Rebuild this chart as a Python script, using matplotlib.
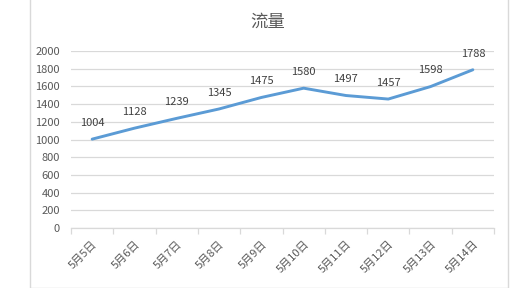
import matplotlib.pyplot as plt
from matplotlib.patches import Rectangle

plt.rcParams['font.family'] = ['Noto Sans CJK SC', 'DejaVu Sans']

dates = ["5月5日", "5月6日", "5月7日", "5月8日", "5月9日",
         "5月10日", "5月11日", "5月12日", "5月13日", "5月14日"]
flow = [1004, 1128, 1239, 1345, 1475, 1580, 1497, 1457, 1598, 1788]
yticks = [0, 200, 400, 600, 800, 1000, 1200, 1400, 1600, 1800, 2000]

text_color = "#595959"
grid_color = "#D9D9D9"

fig = plt.figure(figsize=(5.14, 2.88), dpi=100)
# chart frame
fig.patches.append(Rectangle((29.5 / 514, 0.5 / 288), 478.5 / 514, 1.2,
                             transform=fig.transFigure, fill=False,
                             edgecolor=grid_color, linewidth=1))

ax = fig.add_axes([71 / 514, 60 / 288, 423 / 514, 177 / 288])
x = list(range(len(dates)))
ax.plot(x, flow, color="#5B9BD5", linewidth=2.1, solid_capstyle="round")
for xi, v in zip(x, flow):
    ax.annotate(str(v), (xi, v), xytext=(0, 8), textcoords="offset points",
                ha="center", va="bottom", fontsize=8, color="#404040")

ax.set_xlim(-0.5, len(dates) - 0.5)
ax.set_ylim(0, 2000)
ax.set_yticks(yticks)
ax.set_yticklabels([str(t) for t in yticks], fontsize=8, color=text_color)
ax.yaxis.grid(True, color=grid_color, linewidth=0.9)
ax.set_axisbelow(True)
ax.tick_params(axis="y", length=0, pad=8)

ax.set_xticks([i + 0.5 for i in range(-1, len(dates))], minor=False)
ax.set_xticklabels([])
ax.set_xticks(x, minor=True)
ax.set_xticklabels(dates, minor=True, rotation=45, ha="right", va="top",
                   rotation_mode="anchor", fontsize=8, color=text_color)
ax.tick_params(axis="x", which="major", length=4, color=grid_color, width=0.9)
ax.tick_params(axis="x", which="minor", length=0, pad=8)

for s in ["top", "right", "left"]:
    ax.spines[s].set_visible(False)
ax.spines["bottom"].set_color(grid_color)
ax.spines["bottom"].set_linewidth(0.9)

fig.text(268 / 514, 1 - 22 / 288, "流量", ha="center", va="center",
         fontsize=12.5, color=text_color)

fig.savefig("out.png", dpi=100)
